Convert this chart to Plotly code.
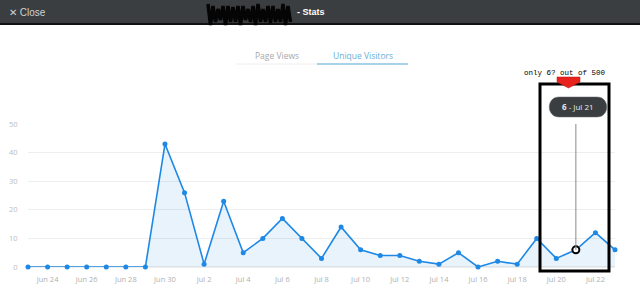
import plotly.graph_objects as go

dates = ["2014-06-23", "2014-06-24", "2014-06-25", "2014-06-26", "2014-06-27", "2014-06-28",
         "2014-06-29", "2014-06-30", "2014-07-01", "2014-07-02", "2014-07-03", "2014-07-04",
         "2014-07-05", "2014-07-06", "2014-07-07", "2014-07-08", "2014-07-09", "2014-07-10",
         "2014-07-11", "2014-07-12", "2014-07-13", "2014-07-14", "2014-07-15", "2014-07-16",
         "2014-07-17", "2014-07-18", "2014-07-19", "2014-07-20", "2014-07-21", "2014-07-22",
         "2014-07-23"]
visitors = [0, 0, 0, 0, 0, 0, 0, 43, 26, 1, 23, 5, 10, 17, 10, 3, 14, 6, 4, 4, 2, 1, 5, 0,
            2, 1, 10, 3, 6, 12, 6]
tick_dates = ["2014-06-24", "2014-06-26", "2014-06-28", "2014-06-30", "2014-07-02",
              "2014-07-04", "2014-07-06", "2014-07-08", "2014-07-10", "2014-07-12",
              "2014-07-14", "2014-07-16", "2014-07-18", "2014-07-20", "2014-07-22"]
tick_text = ["Jun 24", "Jun 26", "Jun 28", "Jun 30", "Jul 2", "Jul 4", "Jul 6", "Jul 8",
             "Jul 10", "Jul 12", "Jul 14", "Jul 16", "Jul 18", "Jul 20", "Jul 22"]
y_ticks = [0, 10, 20, 30, 40, 50]
hi_index = 28  # Jul 21
hi_label_value = str(visitors[hi_index])
hi_label_date = "Jul 21"
note_text = "only 6? out of 500"
title_text = "- Stats"
tabs = ["Page Views", "Unique Visitors"]

W, H = 640, 303
L, R, T, B = 28, 25, 124, 36
PW = W - L - R
PH = H - T - B


def px(X):
    return (X - L) / PW


def py(Y):
    return (H - B - Y) / PH


BLUE = "#1e88e5"
DARK = "#3b3e41"

fig = go.Figure()
fig.add_trace(go.Scatter(
    x=dates, y=visitors, mode="lines+markers",
    line=dict(color=BLUE, width=1.6),
    marker=dict(color=BLUE, size=5),
    fill="tozeroy", fillcolor="rgba(30,136,229,0.10)",
    cliponaxis=False, hoverinfo="skip", showlegend=False,
))
fig.add_trace(go.Scatter(
    x=[dates[hi_index]], y=[visitors[hi_index]], mode="markers",
    marker=dict(color="white", size=7, line=dict(color="black", width=2)),
    cliponaxis=False, hoverinfo="skip", showlegend=False,
))

shapes = []
# top bar
shapes.append(dict(type="rect", xref="paper", yref="paper", x0=px(0), x1=px(W),
                   y0=py(23), y1=py(0), fillcolor=DARK, line=dict(width=0), layer="above"))
shapes.append(dict(type="rect", xref="paper", yref="paper", x0=px(0), x1=px(W),
                   y0=py(25), y1=py(23), fillcolor="#111111", line=dict(width=0), layer="above"))
# scribble redaction
pts = []
for i in range(0, 34):
    X = 208 + i * 2.5
    Y = 6 + (i % 2) * 16 + (3 if i % 3 == 1 else 0) - (2 if i % 5 == 0 else 0)
    pts.append((X, Y))
path = "M " + " L ".join(f"{px(a):.4f},{py(b):.4f}" for a, b in pts)
shapes.append(dict(type="path", xref="paper", yref="paper", path=path,
                   line=dict(color="#050505", width=3.5), layer="above"))
# tabs underline
shapes.append(dict(type="line", xref="paper", yref="paper", x0=px(236), x1=px(317),
                   y0=py(64), y1=py(64), line=dict(color="#eeeeee", width=1)))
shapes.append(dict(type="line", xref="paper", yref="paper", x0=px(317), x1=px(408),
                   y0=py(64), y1=py(64), line=dict(color="#8cc3e3", width=1.5)))
# vertical guide line from point to tooltip
shapes.append(dict(type="line", xref="x", yref="y", x0=dates[hi_index], x1=dates[hi_index],
                   y0=visitors[hi_index], y1=(H - B - 117) / PH * 50,
                   line=dict(color="#888888", width=1)))
# tooltip pill
x0t, x1t, y0t, y1t, r = 549, 607, 97, 117, 10
pill = (f"M {px(x0t + r):.4f},{py(y0t):.4f} L {px(x1t - r):.4f},{py(y0t):.4f} "
        f"C {px(x1t + 3):.4f},{py(y0t):.4f} {px(x1t + 3):.4f},{py(y1t):.4f} {px(x1t - r):.4f},{py(y1t):.4f} "
        f"L {px(x0t + r):.4f},{py(y1t):.4f} "
        f"C {px(x0t - 3):.4f},{py(y1t):.4f} {px(x0t - 3):.4f},{py(y0t):.4f} {px(x0t + r):.4f},{py(y0t):.4f} Z")
shapes.append(dict(type="path", xref="paper", yref="paper", path=pill,
                   fillcolor=DARK, line=dict(color="#666666", width=0.5), layer="above"))
# black box
shapes.append(dict(type="rect", xref="paper", yref="paper", x0=px(540), x1=px(609),
                   y0=py(271), y1=py(84), line=dict(color="black", width=3),
                   fillcolor="rgba(0,0,0,0)", layer="above"))
# red arrow
arrow = (f"M {px(557):.4f},{py(77):.4f} L {px(580):.4f},{py(77):.4f} L {px(580):.4f},{py(82):.4f} "
         f"L {px(568.5):.4f},{py(88):.4f} L {px(557):.4f},{py(82):.4f} Z")
shapes.append(dict(type="path", xref="paper", yref="paper", path=arrow,
                   fillcolor="#e8231e", line=dict(color="#c01010", width=0.5), layer="above"))

annotations = [
    dict(text="✕ Close", xref="paper", yref="paper", x=px(7), y=py(12), xanchor="left",
         yanchor="middle", showarrow=False, font=dict(family="Arial", size=10, color="#cfd2d4")),
    dict(text="<b>" + title_text + "</b>", xref="paper", yref="paper", x=px(295), y=py(12),
         xanchor="left", yanchor="middle", showarrow=False,
         font=dict(family="Arial", size=9, color="white")),
    dict(text=tabs[0], xref="paper", yref="paper", x=px(277), y=py(55), xanchor="center",
         yanchor="middle", showarrow=False, font=dict(family="Open Sans", size=8.5, color="#a8a8a8")),
    dict(text=tabs[1], xref="paper", yref="paper", x=px(363), y=py(55), xanchor="center",
         yanchor="middle", showarrow=False, font=dict(family="Open Sans", size=8.5, color="#6aaed6")),
    dict(text=note_text, xref="paper", yref="paper", x=px(565), y=py(73), xanchor="center",
         yanchor="middle", showarrow=False,
         font=dict(family="Liberation Mono", size=7.5, color="black")),
    dict(text="<b>" + hi_label_value + "</b> - " + hi_label_date, xref="paper", yref="paper",
         x=px(578), y=py(107), xanchor="center", yanchor="middle", showarrow=False,
         font=dict(family="Open Sans", size=8, color="#e8e8e8")),
]

fig.update_layout(
    width=W, height=H, margin=dict(l=L, r=R, t=T, b=B, autoexpand=False),
    paper_bgcolor="white", plot_bgcolor="white",
    shapes=shapes, annotations=annotations, showlegend=False,
    font=dict(family="Open Sans"),
    xaxis=dict(type="date", range=[dates[0], dates[-1]], tickvals=tick_dates, ticktext=tick_text,
               showgrid=False, zeroline=False, showline=False, automargin=False,
               ticks="outside", ticklen=5, tickcolor="rgba(0,0,0,0)",
               tickfont=dict(size=7.5, color="#b0b0b0")),
    yaxis=dict(range=[0, 50], tickvals=y_ticks, showgrid=True, gridcolor="#eeeeee",
               gridwidth=1, zeroline=True, zerolinecolor="#eeeeee", showline=False,
               automargin=False,
               ticks="outside", ticklen=8, tickcolor="rgba(0,0,0,0)",
               tickfont=dict(size=7.5, color="#bdbdbd")),
)

fig.write_html("out.html")
